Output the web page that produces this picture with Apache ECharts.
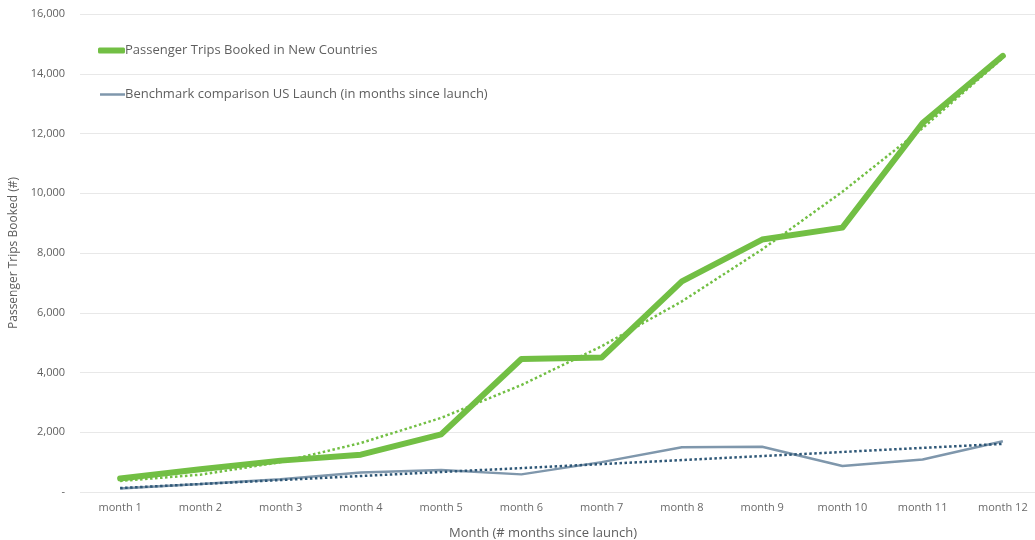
<!DOCTYPE html>
<html>
<head>
<meta charset="utf-8">
<script src="https://cdn.jsdelivr.net/npm/echarts@6/dist/echarts.min.js"></script>
<style>
  html, body { margin: 0; padding: 0; background: #ffffff; }
  #chart { width: 1035px; height: 540px; }
</style>
</head>
<body>
<div id="chart"></div>
<script>
// Monthly categories
const months = ['month 1', 'month 2', 'month 3', 'month 4', 'month 5', 'month 6',
                'month 7', 'month 8', 'month 9', 'month 10', 'month 11', 'month 12'];

// Passenger trips booked in new countries
const newCountryTrips = [450, 760, 1050, 1250, 1930, 4450, 4500, 7050, 8450, 8850, 12350, 14600];
// Trend line for new-country trips
const newCountryTrend = [370, 580, 1000, 1640, 2480, 3580, 4880, 6380, 8120, 10050, 12180, 14530];

// US launch benchmark
const usBenchmark = [120, 270, 430, 650, 740, 590, 1000, 1495, 1515, 870, 1090, 1700];
// Trend line for the US benchmark
const usBenchmarkTrend = [130, 265, 400, 535, 670, 800, 935, 1070, 1205, 1340, 1475, 1610];

// Y axis ticks
const yMin = 0, yMax = 16000, yStep = 2000;

const seriesNames = ['Passenger Trips Booked in New Countries',
                     'Benchmark comparison US Launch (in months since launch)'];

const GREEN = '#72bf44';
const SLATE = '#7f97ac';
const NAVY = '#2e5777';
const TEXT = '#5f5f5f';
const FONT = '"Open Sans", "Noto Sans", sans-serif';

const chart = echarts.init(document.getElementById('chart'), null, { renderer: 'canvas' });

chart.setOption({
  animation: false,
  backgroundColor: '#ffffff',
  textStyle: { fontFamily: FONT },
  grid: { left: 80, top: 14, bottom: 48, right: -8, containLabel: false, outerBoundsMode: 'none' },
  legend: [
    {
      data: [seriesNames[0]],
      left: 98, top: 44, padding: 0,
      icon: 'roundRect', itemWidth: 27, itemHeight: 6,
      textStyle: { color: TEXT, fontSize: 13, fontFamily: FONT, padding: [0, 0, 0, -5] }
    },
    {
      data: [seriesNames[1]],
      left: 100, top: 88, padding: 0,
      icon: 'rect', itemWidth: 25, itemHeight: 2.5,
      textStyle: { color: TEXT, fontSize: 13, fontFamily: FONT, padding: [0, 0, 0, -5] }
    }
  ],
  xAxis: {
    type: 'category',
    data: months,
    boundaryGap: true,
    axisLine: { show: false },
    axisTick: { show: false },
    axisLabel: { color: '#6a6a6a', fontSize: 11, fontFamily: FONT, margin: 10 },
    name: 'Month (# months since launch)',
    nameLocation: 'middle',
    nameGap: 35,
    nameTextStyle: { color: TEXT, fontSize: 13, fontFamily: FONT, padding: [0, 37, 0, 0] }
  },
  yAxis: {
    type: 'value',
    min: yMin, max: yMax, interval: yStep,
    axisLine: { show: false },
    axisTick: { show: false },
    splitLine: { lineStyle: { color: '#e8e8e8', width: 1 } },
    axisLabel: {
      color: TEXT, fontSize: 11, fontFamily: FONT, margin: 15,
      formatter: v => v === 0 ? '-' : v.toLocaleString('en-US')
    },
    name: 'Passenger Trips Booked (#)',
    nameLocation: 'middle',
    nameGap: 59,
    nameRotate: 90,
    nameTextStyle: { color: TEXT, fontSize: 12, fontFamily: FONT }
  },
  series: [
    {
      name: seriesNames[1],
      type: 'line',
      data: usBenchmark,
      showSymbol: false, symbol: 'none',
      color: SLATE,
      lineStyle: { color: SLATE, width: 2.5 },
      z: 2
    },
    {
      name: seriesNames[0],
      type: 'line',
      data: newCountryTrips,
      showSymbol: false, symbol: 'none',
      color: GREEN,
      lineStyle: { color: GREEN, width: 6, join: 'round', cap: 'round' },
      z: 3
    },
    {
      name: 'trend-us',
      type: 'line',
      data: usBenchmarkTrend,
      showSymbol: false, symbol: 'none',
      lineStyle: { color: NAVY, width: 2.5, type: [2.5, 2.5] },
      z: 4
    },
    {
      name: 'trend-new',
      type: 'line',
      data: newCountryTrend,
      showSymbol: false, symbol: 'none',
      lineStyle: { color: GREEN, width: 2.5, type: [2.5, 2.5] },
      z: 4
    }
  ]
});
</script>
</body>
</html>
